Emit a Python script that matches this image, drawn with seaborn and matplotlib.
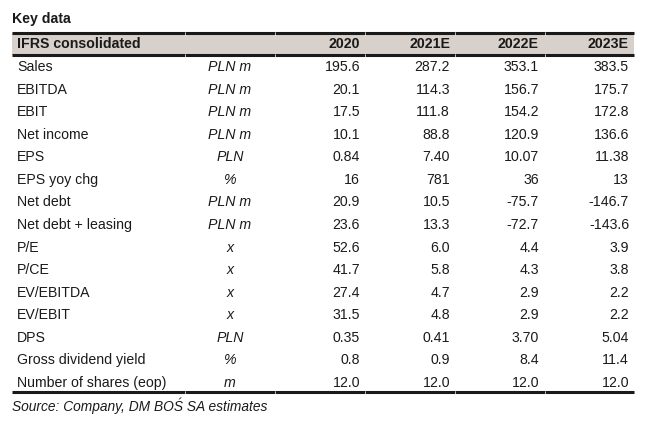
import matplotlib
matplotlib.use("Agg")
import matplotlib.pyplot as plt
import seaborn as sns
import pandas as pd

# Dane tabeli
rotulos = ["Sales", "EBITDA", "EBIT", "Net income", "EPS", "EPS yoy chg", "Net debt",
           "Net debt + leasing", "P/E", "P/CE", "EV/EBITDA", "EV/EBIT", "DPS",
           "Gross dividend yield", "Number of shares (eop)"]
unidades = ["PLN m", "PLN m", "PLN m", "PLN m", "PLN", "%", "PLN m", "PLN m",
            "x", "x", "x", "x", "PLN", "%", "m"]
anos = ["2020", "2021E", "2022E", "2023E"]
v2020 = ["195.6", "20.1", "17.5", "10.1", "0.84", "16", "20.9", "23.6", "52.6", "41.7", "27.4", "31.5", "0.35", "0.8", "12.0"]
v2021 = ["287.2", "114.3", "111.8", "88.8", "7.40", "781", "10.5", "13.3", "6.0", "5.8", "4.7", "4.8", "0.41", "0.9", "12.0"]
v2022 = ["353.1", "156.7", "154.2", "120.9", "10.07", "36", "-75.7", "-72.7", "4.4", "4.3", "2.9", "2.9", "3.70", "8.4", "12.0"]
v2023 = ["383.5", "175.7", "172.8", "136.6", "11.38", "13", "-146.7", "-143.6", "3.9", "3.8", "2.2", "2.2", "5.04", "11.4", "12.0"]

tabela = pd.DataFrame({"2020": v2020, "2021E": v2021, "2022E": v2022, "2023E": v2023},
                      index=rotulos)

sns.set_theme(style="white")
plt.rcParams["font.family"] = ["Liberation Sans Narrow", "Liberation Sans", "DejaVu Sans"]

fig = plt.figure(figsize=(6.48, 4.21), dpi=100)
ax = fig.add_axes([0, 0, 1, 1])
ax.set_xlim(0, 648)
ax.set_ylim(421, 0)
ax.axis("off")

fs = 10.2
cor = "#1a1a1a"
x_esq, x_dir = 12, 634
x_unid = 230
x_cols = [360, 450, 539, 629]
y_primeira, passo = 67, 22.57
quebras = [185, 275, 365, 455, 545]

# Titulo
ax.text(12, 19, "Key data", fontsize=fs, fontweight="bold", va="center", ha="left", color=cor)

# Cabecalho
ax.fill_between([x_esq, x_dir], 33, 55, color="#d7d0cb", lw=0)
for yl in [33, 55]:
    ax.plot([x_esq, x_dir], [yl, yl], color=cor, lw=2.2, solid_capstyle="butt")
    for xs in quebras:
        ax.plot([xs, xs], [yl - 1.5, yl + 1.5], color="white", lw=0.5)
ax.text(17, 44, "IFRS consolidated", fontsize=fs, fontweight="bold", va="center", ha="left", color=cor)
for xc, ano in zip(x_cols, anos):
    ax.text(xc, 44, ano, fontsize=fs, fontweight="bold", va="center", ha="right", color=cor)

# Linhas
for i, rot in enumerate(tabela.index):
    y = y_primeira + i * passo
    ax.text(17, y, rot, fontsize=fs, va="center", ha="left", color=cor)
    ax.text(x_unid, y, unidades[i], fontsize=fs, style="italic", va="center", ha="center", color=cor)
    for xc, ano in zip(x_cols, anos):
        ax.text(xc, y, tabela.loc[rot, ano], fontsize=fs, va="center", ha="right", color=cor)

y_fim = y_primeira + (len(rotulos) - 1) * passo + 9.5
ax.plot([x_esq, x_dir], [y_fim, y_fim], color=cor, lw=2.2, solid_capstyle="butt")
for xs in quebras:
    ax.plot([xs, xs], [y_fim - 1.5, y_fim + 1.5], color="white", lw=0.5)

ax.text(12, 406, "Source: Company, DM BOŚ SA estimates", fontsize=fs - 0.3, style="italic",
        va="center", ha="left", color=cor)

plt.savefig("out.png", dpi=100)
